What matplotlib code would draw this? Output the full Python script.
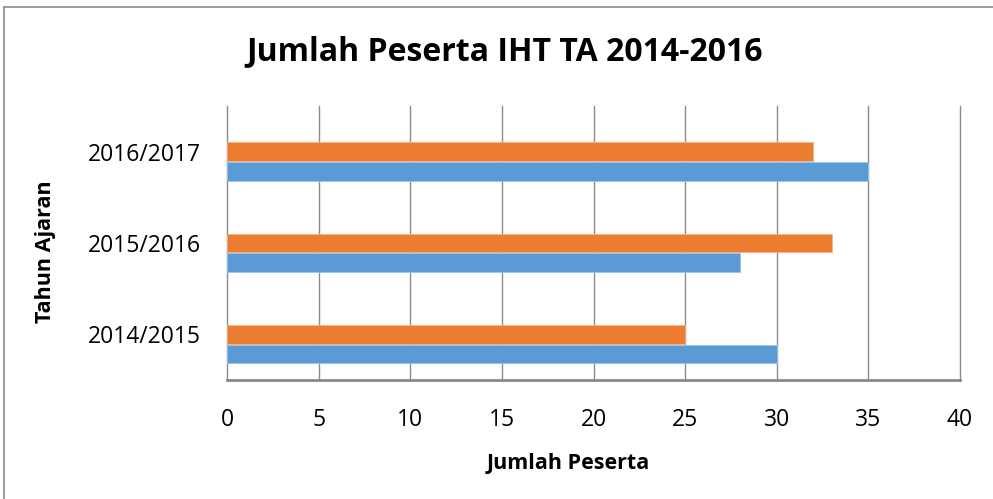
import matplotlib
matplotlib.use("Agg")
import matplotlib.pyplot as plt
from matplotlib.lines import Line2D
import numpy as np

categories = ["2014/2015", "2015/2016", "2016/2017"]
series_blue = [30, 28, 35]
series_orange = [25, 33, 32]
x_ticks = [0, 5, 10, 15, 20, 25, 30, 35, 40]

plt.rcParams['font.family'] = ['Open Sans', 'DejaVu Sans']

fig = plt.figure(figsize=(9.93, 4.99), dpi=100)
ax = fig.add_axes([227/993, (499-380)/499, (960-227)/993, (380-106)/499])

y = np.arange(len(categories))
h = 0.205
ax.barh(y, series_orange, height=h, color="#ED7D31", edgecolor="#F4B183", linewidth=0.6, zorder=3)
ax.barh(y - h - 0.01, series_blue, height=h, color="#5B9BD5", edgecolor="#9DC3E6", linewidth=0.6, zorder=3)

ax.set_xlim(0, 40)
ax.set_ylim(-0.5, 2.5)
ax.set_xticks(x_ticks)
ax.set_xticklabels([str(t) for t in x_ticks], fontsize=16.5)
ax.set_yticks(y)
ax.set_yticklabels(categories, fontsize=16.5)
ax.tick_params(axis='both', length=0, colors="#000000")
ax.tick_params(axis='x', pad=20)
ax.tick_params(axis='y', pad=19)
ax.grid(axis='x', color="#8C8C8C", linewidth=1.0, zorder=0)
for gl in ax.get_xgridlines():
    gl.set_clip_on(False)
for s in ["top", "right", "left"]:
    ax.spines[s].set_visible(False)
ax.spines["bottom"].set_color("#898989")
ax.spines["bottom"].set_linewidth(2.0)

fig.text(505/993, 1 - 52/499, "Jumlah Peserta IHT TA 2014-2016", ha="center", va="center",
         fontsize=23, fontweight="bold")
fig.text(568/993, 1 - 463/499, "Jumlah Peserta", ha="center", va="center",
         fontsize=15.5, fontweight="bold")
fig.text(46/993, 1 - 252/499, "Tahun Ajaran", ha="center", va="center",
         fontsize=15.5, fontweight="bold", rotation=90)

# outer chart border (top and left edges visible)
fig.add_artist(Line2D([4/993, 4/993], [0, 1 - 7/499], transform=fig.transFigure, color="#8C8C8C", linewidth=1.2))
fig.add_artist(Line2D([4/993, 1], [1 - 7/499, 1 - 7/499], transform=fig.transFigure, color="#8C8C8C", linewidth=1.2))

fig.savefig("out.png", dpi=100)
